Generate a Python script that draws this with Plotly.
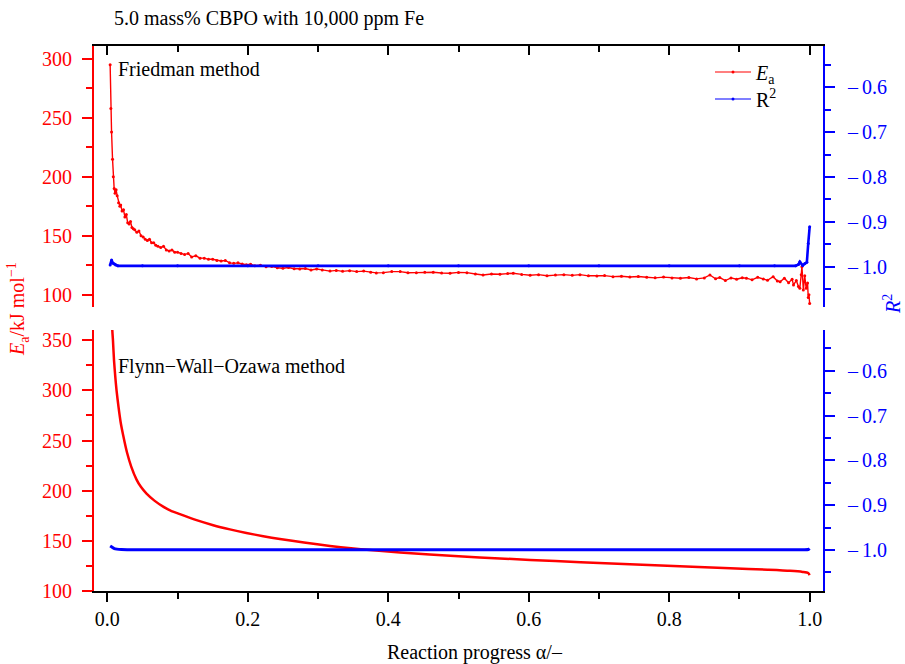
import plotly.graph_objects as go

# ---------------- data ----------------
alpha_fr = [0.004, 0.005, 0.006, 0.0074, 0.0085, 0.0097, 0.011, 0.0125, 0.014, 0.016,
            0.0178, 0.019, 0.021, 0.023, 0.025, 0.027, 0.029, 0.031, 0.033, 0.035,
            0.037, 0.039, 0.042, 0.045, 0.048, 0.051, 0.054, 0.057, 0.060, 0.063,
            0.066, 0.069, 0.072, 0.076, 0.080, 0.084, 0.088, 0.092, 0.096, 0.100,
            0.105, 0.110, 0.115, 0.120, 0.126, 0.132, 0.138, 0.144, 0.150, 0.156,
            0.162, 0.168, 0.174, 0.180, 0.186, 0.192, 0.198, 0.204, 0.210, 0.218,
            0.226, 0.234, 0.242, 0.250, 0.258, 0.266, 0.274, 0.282, 0.290, 0.298,
            0.306, 0.317, 0.326, 0.335, 0.345, 0.355, 0.365, 0.375, 0.383, 0.393,
            0.405, 0.417, 0.428, 0.440, 0.452, 0.464, 0.476, 0.488, 0.500, 0.512,
            0.524, 0.535, 0.547, 0.559, 0.570, 0.578, 0.590, 0.602, 0.614, 0.626,
            0.638, 0.650, 0.662, 0.673, 0.685, 0.697, 0.708, 0.720, 0.732, 0.744,
            0.756, 0.768, 0.780, 0.792, 0.804, 0.816, 0.828, 0.839, 0.850, 0.858,
            0.866, 0.872, 0.880, 0.888, 0.896, 0.904, 0.910, 0.918, 0.926, 0.934,
            0.940, 0.948, 0.954, 0.958, 0.964, 0.970, 0.975, 0.977, 0.981, 0.984,
            0.986, 0.988, 0.989, 0.991, 0.993, 0.995, 0.997, 0.998, 0.999, 1.000]
ea_fr = [295, 258, 238, 215, 200, 190, 186, 189, 184, 178,
         175, 176, 171, 172, 166, 168, 161, 160, 162, 157,
         156, 155, 153, 154, 150, 149, 147, 146, 147, 144,
         144, 142, 141, 140, 141, 138, 137, 138, 136, 136,
         135, 134, 135, 132, 133, 131, 131, 130, 130, 129,
         128.6, 129, 127, 126.6, 127, 126, 125.5, 125.8, 124.5, 125,
         123.8, 124, 122.8, 122.4, 123, 122, 121.8, 122.2, 121, 121.8,
         121, 120, 120.6, 119.8, 120.4, 119.6, 120, 119, 118.5, 118.7,
         119.6, 119.6, 118.6, 118.7, 119, 119, 118.4, 118.2, 118.9, 118.7,
         117.6, 116.7, 117.5, 117.3, 117.9, 118.2, 117.2, 116.5, 117, 116.1,
         116.6, 117, 116.4, 117, 116, 115.8, 116.2, 115.3, 115.6, 115,
         115.4, 114.8, 114.3, 114.9, 114.2, 114.0, 114.6, 113.4, 114.2, 116.7,
         113.5, 114.5, 112.0, 114.2, 113.1, 114.4, 114.0, 112.6, 114.8, 113.4,
         112.2, 115.3, 111.6, 111.0, 114.0, 110.2, 113.0, 108.3, 112.0, 107.0,
         105.5, 117.0, 123.8, 104.0, 116.0, 105.5, 110.0, 97.7, 100.0, 92.5]

alpha_fr_r2 = [0.004, 0.006, 0.008, 0.010, 0.012, 0.015, 0.05, 0.1, 0.2, 0.3, 0.4, 0.5,
               0.6, 0.7, 0.8, 0.9, 0.95, 0.98, 0.984, 0.986, 0.990, 0.993, 0.996, 0.998, 1.000]
r2_fr = [-0.996, -0.985, -0.992, -0.994, -0.996, -0.998, -0.998, -0.998, -0.998, -0.998, -0.998, -0.998,
         -0.998, -0.998, -0.998, -0.998, -0.998, -0.998, -0.995, -0.989, -0.997, -0.993, -0.990, -0.948, -0.911]

alpha_fwo = [0.004, 0.0069, 0.008, 0.0095, 0.0115, 0.0131, 0.016, 0.019, 0.0226, 0.028,
             0.034, 0.0416, 0.048, 0.0558, 0.067, 0.0795, 0.09, 0.1033, 0.127, 0.1507,
             0.1745, 0.198, 0.222, 0.2457, 0.28, 0.317, 0.374, 0.459, 0.53, 0.602,
             0.674, 0.744, 0.815, 0.887, 0.94, 0.972, 0.99, 0.998, 1.0]
ea_fwo = [420, 362, 350, 330, 312, 300, 283, 268, 255, 238,
          224, 211, 203.5, 197, 190, 184, 180, 176.5, 170.5, 165.5,
          161.3, 157.7, 154.5, 151.7, 148.2, 144.8, 140.6, 136.2, 133.3, 130.8,
          128.6, 126.5, 124.5, 122.5, 121, 119.9, 118.8, 117.8, 115.7]

alpha_fwo_r2 = [0.004, 0.006, 0.010, 0.020, 0.05, 0.1, 0.2, 0.4, 0.6, 0.8, 0.95, 0.998, 1.0]
r2_fwo = [-0.991, -0.993, -0.997, -0.999, -0.9995, -0.9995, -0.9995, -0.9995, -0.9995, -0.9995,
          -0.9995, -0.999, -0.997]

x_ticks = [0.0, 0.2, 0.4, 0.6, 0.8, 1.0]
ea_ticks_top = [100, 150, 200, 250, 300]
ea_ticks_bot = [100, 150, 200, 250, 300, 350]
r2_ticks = [-1.0, -0.9, -0.8, -0.7, -0.6]
r2_minor = [-1.05, -0.95, -0.85, -0.75, -0.65, -0.55]

# ---------------- layout geometry ----------------
W, H = 905, 664
L, R, T, B = 94, 82, 46, 73
PW, PH = W - L - R, H - T - B

def px(x):
    return (x - L) / PW

def py(y):
    return (H - B - y) / PH

RED = "#ff0000"
BLUE = "#0000ff"
FONT = "Liberation Serif"
FS = 20

fig = go.Figure()
fig.add_trace(go.Scatter(x=alpha_fr, y=ea_fr, xaxis="x2", yaxis="y", mode="lines+markers",
                         line=dict(color=RED, width=1.4), marker=dict(color=RED, size=3),
                         showlegend=False))
fig.add_trace(go.Scatter(x=alpha_fr_r2, y=r2_fr, xaxis="x2", yaxis="y2", mode="lines+markers",
                         line=dict(color=BLUE, width=2.6), marker=dict(color=BLUE, size=3),
                         showlegend=False))
fig.add_trace(go.Scatter(x=alpha_fwo, y=ea_fwo, xaxis="x", yaxis="y3", mode="lines",
                         line=dict(color=RED, width=2.5, shape="spline", smoothing=0.6),
                         showlegend=False))
fig.add_trace(go.Scatter(x=alpha_fwo_r2, y=r2_fwo, xaxis="x", yaxis="y4", mode="lines",
                         line=dict(color=BLUE, width=3, shape="spline", smoothing=0.6),
                         showlegend=False))
# legend entries (thin line + dot, as in the reference legend)
fig.add_trace(go.Scatter(x=[None], y=[None], xaxis="x2", yaxis="y", mode="lines+markers",
                         line=dict(color=RED, width=1.2), marker=dict(color=RED, size=3),
                         name="<i>E</i><sub>a</sub>", legend="legend"))
fig.add_trace(go.Scatter(x=[None], y=[None], xaxis="x2", yaxis="y2", mode="lines+markers",
                         line=dict(color=BLUE, width=1.2), marker=dict(color=BLUE, size=3),
                         name="R<sup>2</sup>", legend="legend2"))

xr = [-0.019, 1.019]
top_dom = [py(306.7), 1.0]
bot_dom = [0.0, py(330)]

common_x = dict(range=xr, tickvals=x_ticks, showline=True, linecolor="black", linewidth=2,
                tickcolor="black", tickwidth=1.5, ticklen=9, showgrid=False, zeroline=False,
                tickfont=dict(family=FONT, size=FS, color="black"))

def r2_axis(dom, over, anchor, rng):
    return dict(domain=dom, anchor=anchor, overlaying=over, side="right", range=rng,
                tickvals=r2_ticks, ticktext=["\u2013\u2009%.1f" % abs(v) for v in r2_ticks],
                showline=True, linecolor=BLUE, linewidth=2, ticks="outside", tickcolor=BLUE,
                tickwidth=1.5, ticklen=10, showgrid=False, zeroline=False, ticklabelstandoff=9,
                tickfont=dict(family=FONT, size=FS, color=BLUE),
                minor=dict(tickvals=r2_minor, ticks="outside", ticklen=6, tickcolor=BLUE, tickwidth=1.5))

def ea_axis(dom, anchor, rng, tv):
    return dict(domain=dom, anchor=anchor, side="left", range=rng, tickvals=tv,
                showline=True, linecolor=RED, linewidth=2, ticks="outside", tickcolor=RED,
                tickwidth=1.5, ticklen=10, showgrid=False, zeroline=False, ticklabelstandoff=6,
                tickfont=dict(family=FONT, size=FS, color=RED),
                minor=dict(dtick=25, tick0=0, ticks="outside", ticklen=6, tickcolor=RED, tickwidth=1.5))

legend_common = dict(xanchor="left", yanchor="middle", bgcolor="rgba(0,0,0,0)",
                     font=dict(family=FONT, size=FS, color="black"), itemwidth=36)

fig.update_layout(
    width=W, height=H, margin=dict(l=L, r=R, t=T, b=B, pad=0),
    paper_bgcolor="white", plot_bgcolor="white",
    font=dict(family=FONT, size=FS, color="black"),
    xaxis=dict(**common_x, domain=[0, 1], anchor="y3", side="bottom", ticks="outside",
               ticktext=["%.1f" % v for v in x_ticks],
               minor=dict(dtick=0.1, tick0=0, ticks="outside", ticklen=6, tickcolor="black", tickwidth=1.5)),
    xaxis2=dict(**common_x, domain=[0, 1], anchor="y", side="top", ticks="inside",
                showticklabels=False,
                minor=dict(dtick=0.1, tick0=0, ticks="inside", ticklen=6, tickcolor="black", tickwidth=1.5)),
    xaxis3=dict(**common_x, anchor="y3", side="top", overlaying="x", ticks="inside",
                showticklabels=False,
                minor=dict(dtick=0.1, tick0=0, ticks="inside", ticklen=6, tickcolor="black", tickwidth=1.5)),
    yaxis=ea_axis(top_dom, "x2", [89.8, 311], ea_ticks_top),
    yaxis2=r2_axis(top_dom, "y", "x2", [-1.089, -0.508]),
    yaxis3=ea_axis(bot_dom, "x", [99.8, 360.3], ea_ticks_bot),
    yaxis4=r2_axis(bot_dom, "y3", "x", [-1.0916, -0.509]),
    legend=dict(x=px(710), y=py(72), **legend_common),
    legend2=dict(x=px(710), y=py(99), **legend_common),
    showlegend=True,
)

ann = [
    dict(text="5.0 mass% CBPO with 10,000 ppm Fe", x=px(112), y=py(19), xanchor="left", yanchor="middle",
         font=dict(size=FS, color="black")),
    dict(text="Friedman method", x=px(116), y=py(69), xanchor="left", yanchor="middle",
         font=dict(size=FS, color="black")),
    dict(text="Flynn\u2212Wall\u2212Ozawa method", x=px(116), y=py(366), xanchor="left", yanchor="middle",
         font=dict(size=FS, color="black")),
    dict(text="Reaction progress \u03b1/\u2013", x=px(475), y=py(652), xanchor="center", yanchor="middle",
         font=dict(size=FS, color="black")),
    dict(text="<i>E</i><sub>a</sub>/kJ mol<sup>\u22121</sup>", x=px(18), y=py(309), xanchor="center",
         yanchor="middle", textangle=-90, font=dict(size=FS, color=RED)),
    dict(text="<i>R</i><sup>2</sup>", x=px(892), y=py(304), xanchor="center", yanchor="middle",
         textangle=-90, font=dict(size=FS, color=BLUE)),
]
for a in ann:
    a.update(xref="paper", yref="paper", showarrow=False)
fig.update_layout(annotations=ann)

fig.write_html("out.html")
